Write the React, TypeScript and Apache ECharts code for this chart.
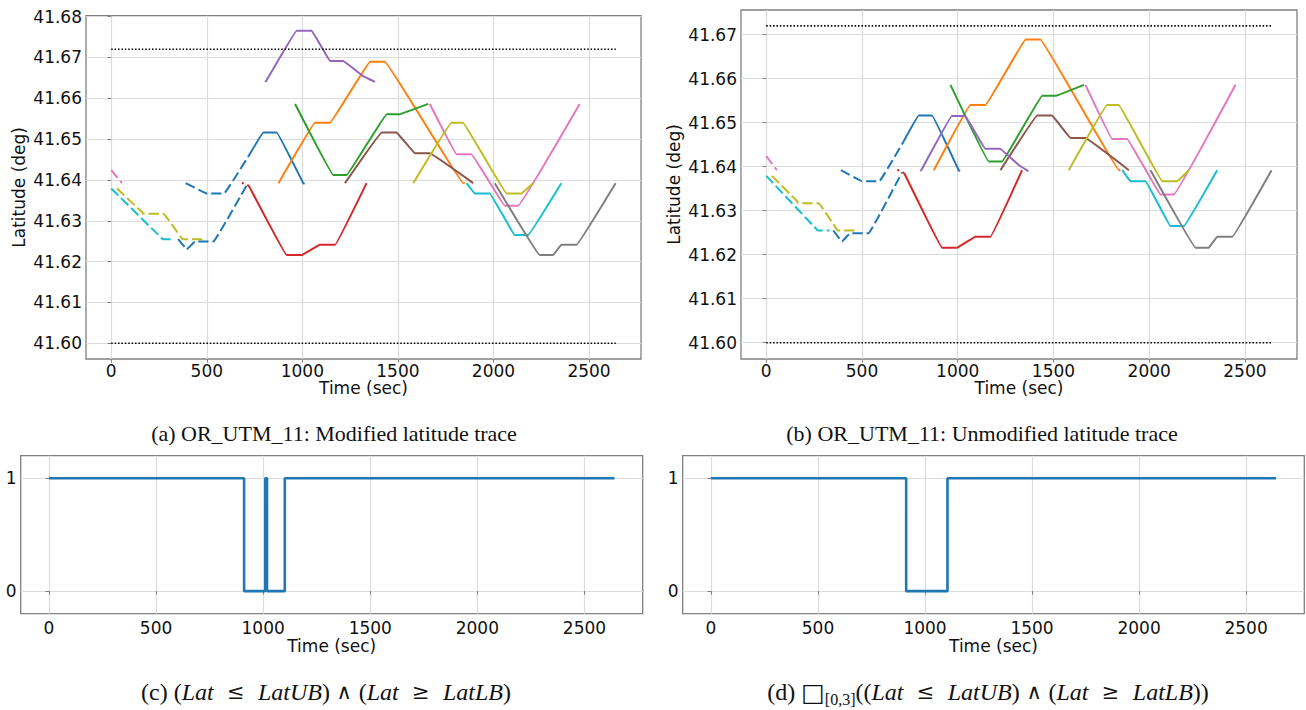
import React, { useEffect, useRef } from "react";
import * as echarts from "echarts";

type Pt = [number, number];

// ---- axes ----
const TIME_TICKS = [0, 500, 1000, 1500, 2000, 2500];
const TIME_MIN = -132;
const TIME_MAX = 2772;
const LAT_TICKS_A = [41.6, 41.61, 41.62, 41.63, 41.64, 41.65, 41.66, 41.67, 41.68];
const LAT_TICKS_B = [41.6, 41.61, 41.62, 41.63, 41.64, 41.65, 41.66, 41.67];
const LAT_RANGE_A: Pt = [41.59616, 41.6802];
const LAT_RANGE_B: Pt = [41.5963, 41.6756];
const BOOL_TICKS = [0, 1];

// ---- latitude bounds ----
const LAT_UB = 41.672;
const LAT_LB = 41.6;
const BOUND_T: Pt = [0, 2640];

// ---- latitude traces (time sec, latitude deg) ----
const pinkLead: Pt[] = [[0, 41.6424], [56, 41.6392]];
const cyanLead: Pt[] = [[0, 41.6379], [258, 41.626], [270, 41.6255], [330, 41.6255]];
const oliveLead: Pt[] = [[30, 41.6379], [160, 41.6322], [168, 41.6317], [274, 41.6317], [369, 41.6257], [378, 41.6255], [483, 41.6255]];
const blueUpperLead: Pt[] = [[390, 41.6392], [500, 41.6367], [591, 41.6367], [718, 41.6458]];
const blueUpper: Pt[] = [[718, 41.6458], [796, 41.6516], [866, 41.6516], [1005, 41.6392], [1012, 41.639]];
const blueLowerLead: Pt[] = [[350, 41.6255], [395, 41.623], [439, 41.6249], [535, 41.6249], [709, 41.6387]];
const redLead: Pt[] = [[684, 41.6393], [694, 41.6391]];
const red: Pt[] = [[712, 41.6388], [722, 41.6384], [918, 41.6216], [997, 41.6216], [1092, 41.6241], [1171, 41.6241], [1336, 41.6392]];
const purpleModified: Pt[] = [[805, 41.664], [812, 41.6643], [970, 41.6765], [1049, 41.6765], [1145, 41.6691], [1214, 41.6691], [1318, 41.6654], [1380, 41.664]];
const purpleOriginal: Pt[] = [[804, 41.639], [811, 41.6393], [969, 41.6515], [1039, 41.6515], [1143, 41.6441], [1221, 41.6441], [1318, 41.6404], [1369, 41.639]];
const orange: Pt[] = [[875, 41.6392], [1066, 41.654], [1145, 41.654], [1354, 41.6689], [1432, 41.6689], [1842, 41.6392], [1850, 41.6392]];
const green: Pt[] = [[962, 41.6586], [1162, 41.6412], [1232, 41.6412], [1441, 41.6561], [1510, 41.6561], [1659, 41.6586]];
const brown: Pt[] = [[1223, 41.6392], [1415, 41.6516], [1493, 41.6516], [1589, 41.6465], [1667, 41.6465], [1894, 41.6392]];
const pink: Pt[] = [[1667, 41.6586], [1807, 41.6463], [1885, 41.6463], [2059, 41.6337], [2129, 41.6337], [2451, 41.6586]];
const olive: Pt[] = [[1580, 41.6392], [1780, 41.654], [1841, 41.654], [2068, 41.6367], [2146, 41.6367], [2207, 41.6392]];
const cyan: Pt[] = [[1859, 41.6392], [1902, 41.6367], [1981, 41.6367], [2111, 41.6265], [2181, 41.6265], [2355, 41.6392]];
const gray: Pt[] = [[2007, 41.6392], [2242, 41.6216], [2312, 41.6216], [2355, 41.6241], [2434, 41.6241], [2639, 41.6392]];

// ---- monitor outputs (time sec, truth value) ----
const robustnessModified: Pt[] = [[0, 1], [911, 1], [911, 0], [1010, 0], [1010, 1], [1018, 1], [1018, 0], [1101, 0], [1101, 1], [2640, 1]];
const robustnessAlways: Pt[] = [[0, 1], [912, 1], [912, 0], [1105, 0], [1105, 1], [2640, 1]];

// ---- labels ----
const TIME_LABEL = "Time (sec)";
const LAT_LABEL = "Latitude (deg)";
const CAPTION_A = "(a) OR_UTM_11: Modified latitude trace";
const CAPTION_B = "(b) OR_UTM_11: Unmodified latitude trace";
const CAPTION_C = "{r|(c) (}{i|Lat}{o|  ≤  }{i|LatUB}{r|)}{o| ∧ }{r|(}{i|Lat}{o|  ≥  }{i|LatLB}{r|)}";
const CAPTION_D = "{r|(d) }{b|□}{s|[0,3]}{r|((}{i|Lat}{o|  ≤  }{i|LatUB}{r|)}{o| ∧ }{r|(}{i|Lat}{o|  ≥  }{i|LatLB}{r|))}";

const C = {
  blue: "#1f77b4",
  orange: "#ff7f0e",
  green: "#2ca02c",
  red: "#d62728",
  purple: "#9467bd",
  brown: "#8c564b",
  pink: "#e377c2",
  gray: "#7f7f7f",
  olive: "#bcbd22",
  cyan: "#17becf",
};

type Trace = { data: Pt[]; color: string; dashed?: boolean };

const sharedTraces: Trace[] = [
  { data: pinkLead, color: C.pink, dashed: true },
  { data: cyanLead, color: C.cyan, dashed: true },
  { data: oliveLead, color: C.olive, dashed: true },
  { data: blueUpperLead, color: C.blue, dashed: true },
  { data: blueUpper, color: C.blue },
  { data: blueLowerLead, color: C.blue, dashed: true },
  { data: redLead, color: C.red },
  { data: red, color: C.red },
  { data: orange, color: C.orange },
  { data: green, color: C.green },
  { data: brown, color: C.brown },
  { data: pink, color: C.pink },
  { data: olive, color: C.olive },
  { data: cyan, color: C.cyan },
  { data: gray, color: C.gray },
];

const FONT = "DejaVu Sans";
const SERIF = "Liberation Serif";
const FRAME = "#808080";
const GRID_LINE = "#dcdcdc";
const INK = "#111";

function timeAxis(gridIndex: number, labelMargin: number, nameGap: number) {
  return {
    type: "value",
    gridIndex,
    min: TIME_MIN,
    max: TIME_MAX,
    axisLine: { show: false },
    axisTick: { show: true, customValues: TIME_TICKS, length: 3.5, lineStyle: { color: FRAME, width: 1 } },
    axisLabel: {
      customValues: TIME_TICKS,
      formatter: (v: number) => String(v),
      fontFamily: FONT,
      fontSize: 17,
      color: INK,
      margin: labelMargin,
    },
    splitLine: { show: true, lineStyle: { color: GRID_LINE, width: 1.2 } },
    name: TIME_LABEL,
    nameLocation: "middle",
    nameGap,
    nameTextStyle: { fontFamily: FONT, fontSize: 17, color: INK },
  };
}

function valueAxis(gridIndex: number, range: Pt, ticks: number[], digits: number, name: string) {
  return {
    type: "value",
    gridIndex,
    min: range[0],
    max: range[1],
    axisLine: { show: false },
    axisTick: { show: true, customValues: ticks, length: 3.5, lineStyle: { color: FRAME, width: 1 } },
    axisLabel: {
      customValues: ticks,
      formatter: (v: number) => v.toFixed(digits),
      fontFamily: FONT,
      fontSize: 17,
      color: INK,
      margin: 4,
    },
    splitLine: { show: true, lineStyle: { color: GRID_LINE, width: 1.2 } },
    name,
    nameLocation: "middle",
    nameGap: 59,
    nameTextStyle: { fontFamily: FONT, fontSize: 17, color: INK },
  };
}

function lineSeries(data: Pt[], color: string, axis: number, width: number, dashed?: boolean, smooth = 0) {
  return {
    type: "line",
    xAxisIndex: axis,
    yAxisIndex: axis,
    data,
    showSymbol: false,
    symbol: "none",
    silent: true,
    clip: true,
    smooth,
    z: 3,
    lineStyle: { color, width, type: dashed ? [10, 4] : "solid" },
  };
}

function boundSeries(axis: number, lat: number) {
  return {
    type: "line",
    xAxisIndex: axis,
    yAxisIndex: axis,
    data: [[BOUND_T[0], lat], [BOUND_T[1], lat]],
    showSymbol: false,
    symbol: "none",
    silent: true,
    z: 4,
    lineStyle: { color: "#000", width: 1.6, type: [1.5, 1.9] },
  };
}

const mathRich = {
  r: { fontFamily: SERIF, fontSize: 24, lineHeight: 30, fill: INK, color: INK },
  i: { fontFamily: SERIF, fontSize: 24, lineHeight: 30, fontStyle: "italic", fill: INK, color: INK },
  o: { fontFamily: "DejaVu Serif", fontSize: 21, lineHeight: 30, fill: INK, color: INK },
  b: { fontFamily: "DejaVu Sans", fontSize: 25, lineHeight: 30, fill: INK, color: INK },
  s: { fontFamily: SERIF, fontSize: 16, lineHeight: 10, verticalAlign: "bottom", fill: INK, color: INK },
};

export default function App() {
  const ref = useRef<HTMLDivElement>(null);

  useEffect(() => {
    if (!ref.current) return;
    const chart = echarts.init(ref.current, undefined, { renderer: "svg" });

    const series: any[] = [];
    [0, 1].forEach((axis) => {
      sharedTraces.forEach((t) => series.push(lineSeries(t.data, t.color, axis, 2, t.dashed, 0.04)));
      series.push(lineSeries(axis === 0 ? purpleModified : purpleOriginal, C.purple, axis, 2, false, 0.04));
      series.push(boundSeries(axis, LAT_UB));
      series.push(boundSeries(axis, LAT_LB));
    });
    series.push(lineSeries(robustnessModified, C.blue, 2, 2.6));
    series.push(lineSeries(robustnessAlways, C.blue, 3, 2.6));

    const gridBase = { show: true, borderColor: FRAME, borderWidth: 1.3, backgroundColor: "transparent", containLabel: false };
    const captionStyle = { font: `22px "${SERIF}"`, fill: INK, align: "center", verticalAlign: "middle", textAlign: "center", textVerticalAlign: "middle" };

    chart.setOption({
      animation: false,
      backgroundColor: "#fff",
      grid: [
        { ...gridBase, left: 86, top: 15.7, width: 555, height: 343.3 },
        { ...gridBase, left: 741, top: 10, width: 556, height: 349 },
        { ...gridBase, left: 20.7, top: 455.7, width: 622, height: 158 },
        { ...gridBase, left: 682.7, top: 455.7, width: 621.6, height: 158 },
      ],
      xAxis: [timeAxis(0, 3, 20), timeAxis(1, 3, 20), timeAxis(2, 6, 24), timeAxis(3, 6, 24)],
      yAxis: [
        valueAxis(0, LAT_RANGE_A, LAT_TICKS_A, 2, LAT_LABEL),
        valueAxis(1, LAT_RANGE_B, LAT_TICKS_B, 2, LAT_LABEL),
        valueAxis(2, [-0.2, 1.2], BOOL_TICKS, 0, ""),
        valueAxis(3, [-0.2, 1.2], BOOL_TICKS, 0, ""),
      ],
      series,
      graphic: [
        { type: "text", x: 334, y: 433, silent: true, style: { text: CAPTION_A, ...captionStyle } },
        { type: "text", x: 982, y: 433, silent: true, style: { text: CAPTION_B, ...captionStyle } },
        {
          type: "text", x: 326, y: 692, silent: true,
          style: { text: CAPTION_C, rich: mathRich, align: "center", verticalAlign: "middle", textAlign: "center", textVerticalAlign: "middle" },
        },
        {
          type: "text", x: 988, y: 692, silent: true,
          style: { text: CAPTION_D, rich: mathRich, align: "center", verticalAlign: "middle", textAlign: "center", textVerticalAlign: "middle" },
        },
      ],
    });

    return () => chart.dispose();
  }, []);

  return (
    <div
      ref={ref}
      style={{ position: "absolute", left: 0, top: 0, width: 1306, height: 710, background: "#fff" }}
    />
  );
}
